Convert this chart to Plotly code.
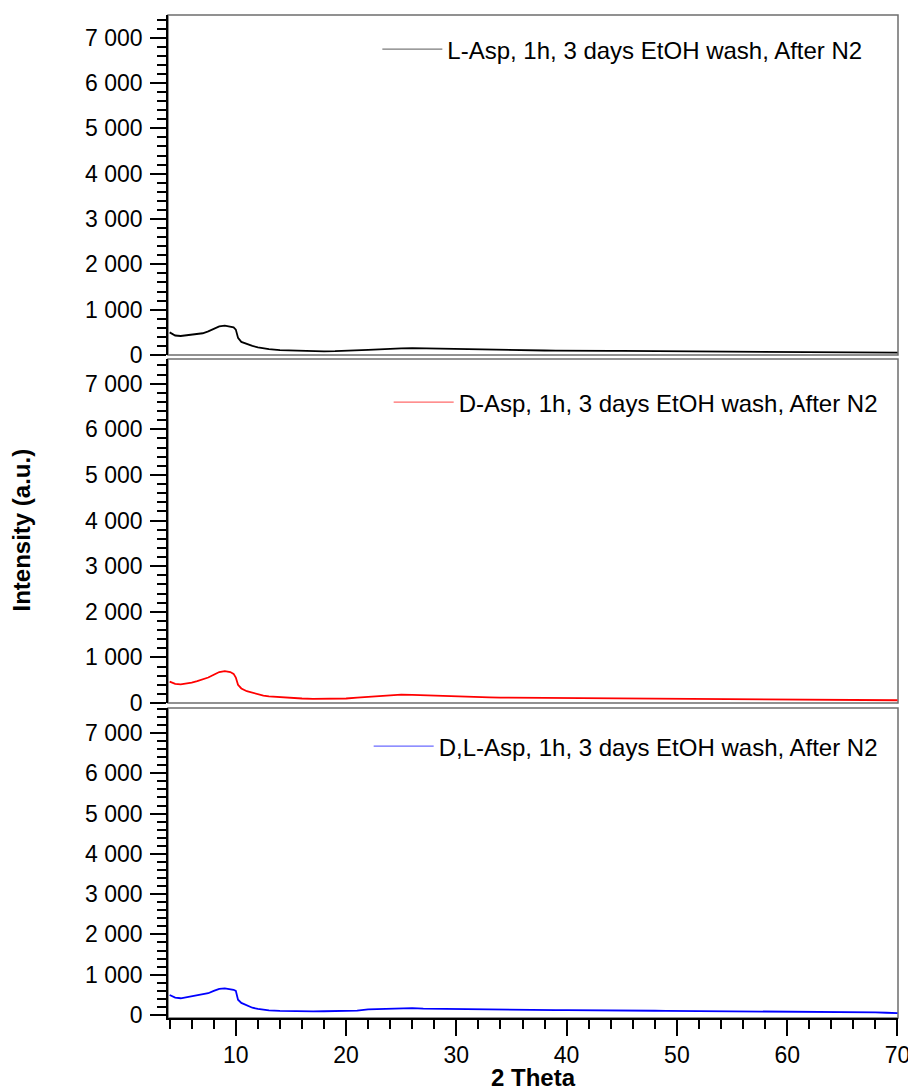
import plotly.graph_objects as go

# 2-theta positions (degrees)
two_theta = [4.0, 4.5, 5.0, 5.5, 6.0, 6.5, 7.0, 7.5, 8.0, 8.5, 9.0, 9.5, 9.8, 10.0,
             10.2, 10.5, 11.0, 11.5, 12.0, 12.5, 13.0, 14.0,
             15, 16, 17, 18, 19, 20, 21, 22, 23, 24, 25, 26, 27, 28, 29, 30,
             31, 32, 33, 34, 35, 36, 37, 38, 39, 40, 41, 42, 43, 44, 45, 46,
             47, 48, 49, 50, 51, 52, 53, 54, 55, 56, 57, 58, 59, 60, 61, 62,
             63, 64, 65, 66, 67, 68, 69, 70]

# Intensities (a.u.)
l_asp = [500, 430, 420, 435, 445, 460, 480, 520, 580, 630, 650, 620, 610, 560,
         380, 290, 240, 200, 170, 150, 130, 110,
         100, 90, 85, 82, 85, 90, 100, 115, 125, 140, 145, 150, 145, 140, 135, 125,
         120, 118, 112, 110, 105, 108, 102, 100, 98, 100, 95, 98, 95, 92, 90, 88,
         90, 85, 84, 82, 80, 82, 78, 76, 78, 75, 72, 74, 70, 68, 70, 66,
         64, 65, 62, 60, 58, 57, 55, 52]

d_asp = [470, 420, 410, 425, 450, 480, 520, 560, 620, 680, 700, 680, 640, 560,
         400, 320, 260, 225, 190, 165, 145, 125,
         110, 100, 92, 90, 92, 100, 120, 140, 160, 175, 185, 180, 170, 160, 150, 140,
         135, 130, 125, 120, 118, 115, 112, 110, 112, 108, 105, 108, 104, 100, 98, 100,
         96, 95, 92, 90, 92, 88, 86, 88, 84, 82, 84, 80, 78, 78, 76, 74,
         75, 72, 70, 70, 68, 66, 64, 62]

dl_asp = [495, 430, 415, 440, 465, 490, 505, 540, 600, 650, 660, 640, 625, 600,
          380, 300, 230, 180, 150, 125, 112, 100,
          92, 85, 90, 92, 95, 100, 110, 140, 150, 165, 180, 172, 160, 155, 150, 145,
          140, 138, 135, 130, 128, 125, 122, 120, 118, 120, 116, 118, 115, 112, 110, 108,
          110, 105, 104, 102, 100, 102, 98, 96, 98, 95, 100, 96, 90, 88, 92, 85,
          82, 80, 78, 76, 70, 65, 55, 45]

series_names = ["L-Asp, 1h, 3 days EtOH wash, After N2",
                "D-Asp, 1h, 3 days EtOH wash, After N2",
                "D,L-Asp, 1h, 3 days EtOH wash, After N2"]
series_values = [l_asp, d_asp, dl_asp]
series_colors = ["#000000", "#ff0000", "#0000ff"]
legend_colors = ["#7a7a7a", "#ff6a6a", "#6a6aff"]

y_tick_vals = [0, 1000, 2000, 3000, 4000, 5000, 6000, 7000]
y_tick_text = ["0", "1 000", "2 000", "3 000", "4 000", "5 000", "6 000", "7 000"]
x_tick_vals = [10, 20, 30, 40, 50, 60, 70]
x_tick_text = ["10", "20", "30", "40", "50", "60", "70"]

FONT = "Liberation Sans, Arial, Helvetica, sans-serif"
TICK_SIZE = 23
LEGEND_SIZE = 24
TITLE_SIZE = 24

# panel layout: (y domain, y range, legend x, legend y) from top to bottom
panels = [
    ([0.661, 1.0], [0, 7500], 0.958, 0.988),
    ([0.314, 0.657], [0, 7540], 0.979, 0.636),
    ([0.0, 0.309], [-75, 7620], 0.979, 0.293),
]

fig = go.Figure()
shapes = []
for i, (name, vals, col, lcol) in enumerate(zip(series_names, series_values,
                                                  series_colors, legend_colors)):
    n = "" if i == 0 else str(i + 1)
    # measured pattern
    fig.add_trace(go.Scatter(x=two_theta, y=vals, mode="lines", name=name,
                             line=dict(color=col, width=1.8),
                             xaxis="x" + n, yaxis="y" + n,
                             legend="legend" + n, showlegend=False))
    # legend entry with the lighter sample line
    fig.add_trace(go.Scatter(x=[None], y=[None], mode="lines", name=name,
                             line=dict(color=lcol, width=1.2),
                             xaxis="x" + n, yaxis="y" + n,
                             legend="legend" + n, showlegend=True))
    dom, yr, lx, ly = panels[i]
    last = (i == 2)
    fig.layout["xaxis" + n] = dict(
        domain=[0, 1], range=[3.85, 70.05], anchor="y" + n,
        matches=None if i == 0 else "x",
        automargin=False,
        showline=last, linecolor="#000000", linewidth=1.5,
        showgrid=False, zeroline=False,
        ticks="outside" if last else "", ticklen=16, tickwidth=1.5,
        tickcolor="#000000",
        tickvals=x_tick_vals if last else [], ticktext=x_tick_text if last else [],
        showticklabels=last,
        ticklabeloverflow="allow",
        minor=dict(dtick=2, tick0=0, ticks="outside", ticklen=9, tickwidth=1.5,
                   tickcolor="#000000") if last else dict(ticks=""),
        tickfont=dict(family=FONT, size=TICK_SIZE, color="#000000"),
    )
    fig.layout["yaxis" + n] = dict(
        domain=dom, range=yr, anchor="x" + n,
        automargin=False,
        showline=True, linecolor="#000000", linewidth=1.5,
        showgrid=False, zeroline=False,
        ticks="outside", ticklen=16, tickwidth=1.5, tickcolor="#000000",
        tickvals=y_tick_vals, ticktext=y_tick_text,
        ticklabelstandoff=3,
        minor=dict(dtick=200, tick0=0, ticks="outside", ticklen=9, tickwidth=1.5,
                   tickcolor="#000000"),
        tickfont=dict(family=FONT, size=TICK_SIZE, color="#000000"),
    )
    fig.layout["legend" + n] = dict(
        x=lx, y=ly, xanchor="right", yanchor="top",
        bgcolor="rgba(0,0,0,0)", borderwidth=0,
        font=dict(family=FONT, size=LEGEND_SIZE, color="#000000"),
        itemwidth=60,
    )
    # panel frame
    shapes.append(dict(type="rect", xref="x" + n + " domain", yref="y" + n + " domain",
                       x0=0, x1=1, y0=0, y1=1, layer="below",
                       line=dict(color="#6e6e6e", width=1.5)))

fig.update_layout(
    width=908, height=1092,
    margin=dict(l=168, r=10, t=15, b=74),
    paper_bgcolor="#ffffff", plot_bgcolor="rgba(0,0,0,0)",
    shapes=shapes,
    annotations=[
        dict(text="<b>Intensity (a.u.)</b>", xref="paper", yref="paper",
             x=-0.2, y=0.486, xanchor="center", yanchor="middle",
             textangle=-90, showarrow=False,
             font=dict(family=FONT, size=TITLE_SIZE, color="#000000")),
        dict(text="<b>2 Theta</b>", xref="paper", yref="paper",
             x=0.5, y=-0.0595, xanchor="center", yanchor="middle",
             showarrow=False,
             font=dict(family=FONT, size=TITLE_SIZE, color="#000000")),
    ],
)

fig.write_html("out.html")
